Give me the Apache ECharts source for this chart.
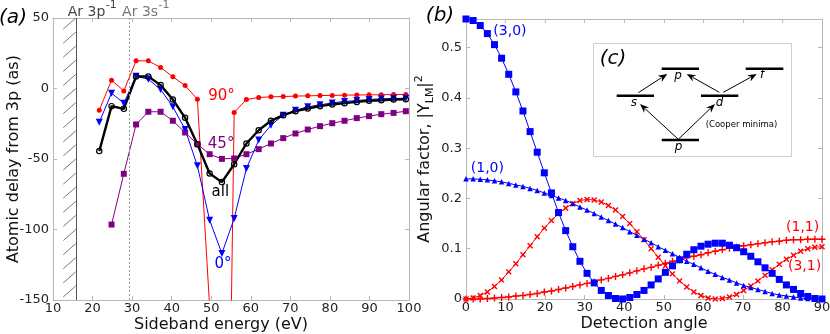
<!DOCTYPE html>
<html>
<head>
<meta charset="utf-8">
<script src="https://cdn.jsdelivr.net/npm/echarts@6/dist/echarts.min.js"></script>
<style>
  html, body { margin: 0; padding: 0; background: #fff; }
  #chart { width: 830px; height: 334px; }
</style>
</head>
<body>
<div id="chart"></div>
<script>
// (a) sideband energies (eV) and atomic delays (as)
const energy = [21.7, 24.8, 27.9, 31.0, 34.1, 37.2, 40.3, 43.4, 46.5, 49.6, 52.7, 55.8, 58.9,
  62.0, 65.1, 68.2, 71.3, 74.4, 77.5, 80.6, 83.7, 86.8, 89.9, 93.0, 96.1, 99.2]
const delay90 = [-15.4, 5.9, -1.7, 19.6, 19.6, 14.9, 8.3, 2.1, -7.6, -155, -620, -17.0, -7.8,
  -6.4, -5.9, -5.7, -5.4, -5.2, -5.0, -4.9, -4.7, -4.6, -4.5, -4.4, -4.3, -4.2]
const delay45 = [null, -96.5, -60.5, -25.5, -16.5, -16.5, -22.9, -31.2, -39.5, -46.6, -49.9, -49.6, -46.6,
  -43.0, -39.0, -35.2, -31.9, -29.1, -26.7, -24.6, -22.9, -21.0, -19.6, -18.2, -17.3, -16.1]
const delay0 = [-23.9, -3.3, -10.4, 8.7, 6.6, -0.7, -13.0, -29.0, -54.8, -93.4, -117.0, -92.2, -56.7,
  -36.6, -26.0, -18.9, -15.4, -13.0, -11.6, -10.2, -9.2, -8.5, -7.8, -7.3, -7.1, -6.9]
const delayAll = [-44.4, -12.5, -14.4, 8.5, 8.5, 2.4, -7.8, -20.8, -39.5, -60.3, -66.4, -53.7, -39.0,
  -29.6, -22.9, -18.9, -16.1, -14.2, -12.5, -11.3, -10.4, -9.5, -8.7, -8.3, -7.8, -7.6]

// thresholds (eV)
const ar3p = 15.76
const ar3s = 29.24

// (b) detection angle (deg) and angular factors
const angle = [0, 1.8, 3.6, 5.4, 7.2, 9, 10.8, 12.6, 14.4, 16.2, 18, 19.8, 21.6, 23.4, 25.2, 27, 28.8,
  30.6, 32.4, 34.2, 36, 37.8, 39.6, 41.4, 43.2, 45, 46.8, 48.6, 50.4, 52.2, 54, 55.8, 57.6, 59.4,
  61.2, 63, 64.8, 66.6, 68.4, 70.2, 72, 73.8, 75.6, 77.4, 79.2, 81, 82.8, 84.6, 86.4, 88.2, 90]
const y30 = [0.557, 0.554, 0.544, 0.528, 0.506, 0.479, 0.447, 0.412, 0.374, 0.333, 0.292, 0.251, 0.211,
  0.172, 0.136, 0.104, 0.075, 0.051, 0.032, 0.017, 0.007, 0.001, 0.000, 0.003, 0.009, 0.017, 0.028,
  0.040, 0.053, 0.066, 0.078, 0.089, 0.098, 0.105, 0.109, 0.111, 0.111, 0.107, 0.102, 0.094, 0.085,
  0.074, 0.062, 0.051, 0.039, 0.028, 0.019, 0.011, 0.005, 0.001, 0.000]
const y10 = [0.239, 0.239, 0.238, 0.237, 0.235, 0.233, 0.230, 0.227, 0.224, 0.220, 0.216, 0.211, 0.206,
  0.201, 0.196, 0.190, 0.183, 0.177, 0.170, 0.163, 0.156, 0.149, 0.142, 0.134, 0.127, 0.119, 0.112,
  0.104, 0.097, 0.090, 0.083, 0.075, 0.069, 0.062, 0.055, 0.049, 0.043, 0.038, 0.032, 0.027, 0.023,
  0.019, 0.015, 0.011, 0.008, 0.006, 0.004, 0.002, 0.001, 0.000, 0.000]
const y11 = [0.000, 0.000, 0.000, 0.001, 0.002, 0.003, 0.004, 0.006, 0.007, 0.009, 0.011, 0.014, 0.016,
  0.019, 0.022, 0.025, 0.028, 0.031, 0.034, 0.038, 0.041, 0.045, 0.048, 0.052, 0.056, 0.060, 0.063,
  0.067, 0.071, 0.075, 0.078, 0.082, 0.085, 0.088, 0.092, 0.095, 0.098, 0.101, 0.103, 0.106, 0.108,
  0.110, 0.112, 0.114, 0.115, 0.117, 0.118, 0.118, 0.119, 0.119, 0.119]
const y31 = [0.000, 0.002, 0.007, 0.014, 0.025, 0.038, 0.054, 0.070, 0.088, 0.106, 0.124, 0.141, 0.156,
  0.170, 0.181, 0.190, 0.196, 0.198, 0.197, 0.193, 0.186, 0.177, 0.164, 0.150, 0.134, 0.118, 0.100,
  0.083, 0.066, 0.050, 0.036, 0.024, 0.014, 0.007, 0.002, 0.000, 0.001, 0.004, 0.009, 0.017, 0.026,
  0.036, 0.047, 0.058, 0.069, 0.079, 0.087, 0.095, 0.100, 0.103, 0.104]

const FONT = 'DejaVu Sans'
const BOX = '#b8b8b8'
const RED = '#ff0000'
const BLUE = '#0000ff'
const PURPLE = '#800080'
const PLUS = 'path://M4,0h2v4h4v2h-4v4h-2v-4h-4v-2h4z'
// open ring, the line shows through its middle
const RING = 'path://M5,0A5,5 0 1,1 4.99,0Z M5,1.8A3.2,3.2 0 1,0 5.01,1.8Z'

const pairs = (xs, ys) => xs.map((x, i) => [x, ys[i]])

// axis with box edges and inward ticks
function axis(extra, labels) {
  return Object.assign({
    type: 'value',
    nameMoveOverlap: false,
    axisLine: { show: true, onZero: false, lineStyle: { color: BOX, width: 1 } },
    axisTick: { show: true, inside: true, length: 4, lineStyle: { color: BOX } },
    splitLine: { show: false },
    axisLabel: labels === false ? { show: false } : { color: '#222', fontSize: 13, fontFamily: FONT, margin: 4 },
    nameTextStyle: { color: '#111', fontSize: 16, fontFamily: FONT }
  }, extra)
}

function line(name, data, color, symbol, size, extra) {
  return Object.assign({
    name: name,
    type: 'line',
    data: data,
    symbol: symbol,
    symbolSize: size,
    showSymbol: true,
    connectNulls: false,
    clip: true,
    lineStyle: { color: color, width: 1 },
    itemStyle: { color: color },
    emphasis: { disabled: true },
    animation: false
  }, extra)
}

const option = {
  animation: false,
  textStyle: { fontFamily: FONT },
  grid: [
    { left: 53, top: 18, width: 356, height: 282, outerBoundsMode: 'none', containLabel: false },
    { left: 466, top: 19, width: 356, height: 280, outerBoundsMode: 'none', containLabel: false }
  ],
  xAxis: [
    axis({ gridIndex: 0, min: 10, max: 100, interval: 10, position: 'bottom',
      name: 'Sideband energy (eV)', nameLocation: 'middle', nameGap: 17,
      nameTextStyle: { color: '#111', fontSize: 16, fontFamily: FONT, padding: [0, 20, 0, 0] },
      axisLabel: { color: '#222', fontSize: 13, fontFamily: FONT, margin: 2 } }),
    axis({ gridIndex: 0, min: 10, max: 100, interval: 10, position: 'top' }, false),
    axis({ gridIndex: 1, min: 0, max: 90, interval: 10, position: 'bottom',
      name: 'Detection angle', nameLocation: 'middle', nameGap: 17,
      axisLabel: { color: '#222', fontSize: 13, fontFamily: FONT, margin: 2 } }),
    axis({ gridIndex: 1, min: 0, max: 90, interval: 10, position: 'top' }, false)
  ],
  yAxis: [
    axis({ gridIndex: 0, min: -150, max: 50, interval: 50, position: 'left',
      name: 'Atomic delay from 3p (as)', nameLocation: 'middle', nameGap: 31 }),
    axis({ gridIndex: 0, min: -150, max: 50, interval: 50, position: 'right' }, false),
    axis({ gridIndex: 1, min: 0, max: 0.557, interval: 0.1, position: 'left',
      name: 'Angular factor, |Y{sub|LM}|{sup|2}', nameLocation: 'middle', nameGap: 30,
      axisLabel: { color: '#222', fontSize: 13, fontFamily: FONT, margin: 4, showMaxLabel: false },
      nameTextStyle: {
        color: '#111', fontSize: 16, fontFamily: FONT, lineHeight: 22,
        rich: {
          sub: { fontSize: 11, fontFamily: FONT, color: '#111', verticalAlign: 'bottom', lineHeight: 10 },
          sup: { fontSize: 11, fontFamily: FONT, color: '#111', verticalAlign: 'top', lineHeight: 10 }
        }
      } }),
    axis({ gridIndex: 1, min: 0, max: 0.557, interval: 0.1, position: 'right' }, false)
  ],
  series: [
    line('90°', pairs(energy, delay90), RED, 'circle', 5, {
      markLine: {
        silent: true,
        symbol: 'none',
        label: { show: false },
        data: [
          { xAxis: ar3p, lineStyle: { color: '#555', width: 1, type: 'solid' } },
          { xAxis: ar3s, lineStyle: { color: '#999', width: 1, type: [2, 2] } }
        ]
      }
    }),
    line('45°', pairs(energy, delay45), PURPLE, 'rect', 6),
    line('0°', pairs(energy, delay0), BLUE, 'triangle', 7, { symbolRotate: 180 }),
    line('all', pairs(energy, delayAll), '#000', RING, 6.5, {
      lineStyle: { color: '#000', width: 2.4 }
    }),
    line('(1,1)', pairs(angle, y11), RED, PLUS, 7, { xAxisIndex: 2, yAxisIndex: 2 }),
    line('(3,1)', pairs(angle, y31), RED, PLUS, 7, { xAxisIndex: 2, yAxisIndex: 2, symbolRotate: 45 }),
    line('(1,0)', pairs(angle, y10), BLUE, 'triangle', 5.5, { xAxisIndex: 2, yAxisIndex: 2 }),
    line('(3,0)', pairs(angle, y30), BLUE, 'rect', 7, { xAxisIndex: 2, yAxisIndex: 2 })
  ]
}

const chart = echarts.init(document.getElementById('chart'))
chart.setOption(option)

const pa = (x, y) => chart.convertToPixel({ gridIndex: 0 }, [x, y])
const pb = (x, y) => chart.convertToPixel({ gridIndex: 1 }, [x, y])

const ctx = document.createElement('canvas').getContext('2d')
function textWidth(s, size) {
  ctx.font = size + 'px "' + FONT + '"'
  return ctx.measureText(s).width
}

function text(x, y, str, color, size, extra) {
  return {
    type: 'text', x: x, y: y, z: 100,
    style: Object.assign({ text: str, fill: color, fontSize: size, fontFamily: FONT, align: 'center', verticalAlign: 'middle' }, extra)
  }
}

function arrow(x1, y1, x2, y2) {
  const a = Math.atan2(y2 - y1, x2 - x1)
  const L = 9, W = 3.6
  const ca = Math.cos(a), sa = Math.sin(a)
  const bx = x2 - L * ca, by = y2 - L * sa
  return [
    { type: 'line', z: 100, shape: { x1: x1, y1: y1, x2: bx + 2 * ca, y2: by + 2 * sa }, style: { stroke: '#000', lineWidth: 1 } },
    { type: 'polygon', z: 100, shape: { points: [[x2, y2], [bx - W * sa, by + W * ca], [x2 - 0.7 * L * ca, y2 - 0.7 * L * sa], [bx + W * sa, by - W * ca]] },
      style: { fill: '#000' } }
  ]
}

function level(x1, x2, y) {
  return { type: 'line', z: 100, shape: { x1: x1, y1: y, x2: x2, y2: y }, style: { stroke: '#000', lineWidth: 2.6 } }
}

const graphics = []

// hatching left of the Ar 3p threshold
const th = pa(ar3p, 0)[0]
for (let v = 50; v >= -140; v -= 10) {
  const y = pa(ar3p, v)[1]
  graphics.push({ type: 'line', z: 50, shape: { x1: th - 12.5, y1: y + 11, x2: th, y2: y },
    style: { stroke: '#555', lineWidth: 0.8 } })
}

// threshold labels with superscript -1
const ts = pa(ar3s, 0)[0]
function threshold(x, s, color) {
  const w = textWidth(s, 14)
  graphics.push(text(x, 12, s, color, 14, { align: 'left' }))
  graphics.push(text(x + w + 0.5, 5, '-1', color, 11, { align: 'left' }))
}
threshold(th - 8, 'Ar 3p', '#444')
threshold(ts - 7, 'Ar 3s', '#777')

// panel letters
graphics.push(text(13, 18, '(a)', '#000', 20, { fontStyle: 'italic' }))
graphics.push(text(440, 16, '(b)', '#000', 20, { fontStyle: 'italic' }))

// curve tags, panel (a)
const tagsA = [['90°', 52.6, -5.3, RED], ['45°', 52.5, -39.4, PURPLE], ['all', 52.3, -73.4, '#000'], ['0°', 53.0, -124.5, BLUE]]
tagsA.forEach(t => {
  const p = pa(t[1], t[2])
  graphics.push(text(p[0], p[1], t[0], t[3], 15))
})

// curve tags, panel (b)
const tagsB = [['(3,0)', 11.1, 0.533, BLUE], ['(1,0)', 5.4, 0.26, BLUE], ['(1,1)', 85.1, 0.1425, RED], ['(3,1)', 85.6, 0.0645, RED]]
tagsB.forEach(t => {
  const p = pb(t[1], t[2])
  graphics.push(text(p[0], p[1], t[0], t[3], 14))
})

// inset (c): transition diagram
graphics.push({ type: 'rect', z: 90, shape: { x: 593.5, y: 43.5, width: 198, height: 113 },
  style: { fill: '#fff', stroke: '#cfcfcf', lineWidth: 1 } })
graphics.push(text(613, 59, '(c)', '#000', 20, { fontStyle: 'italic' }))
graphics.push(level(661.7, 699, 68.7), level(745.7, 783.3, 68.7), level(616.7, 654, 95.7),
  level(701, 738.3, 95.7), level(661.7, 699, 140))
graphics.push(...arrow(638.3, 92.7, 667.3, 74), ...arrow(719.3, 92.3, 686.7, 74), ...arrow(723.3, 92.3, 756.7, 74),
  ...arrow(678.3, 139.3, 640, 104), ...arrow(678.3, 139.3, 715, 104))
const italic = (x, y, s) => text(x, y, s, '#000', 12, { fontStyle: 'italic' })
graphics.push(italic(678, 75.5, 'p'), italic(762, 74.5, 'f'), italic(634, 102.5, 's'), italic(719.5, 102.5, 'd'),
  italic(678.5, 146.5, 'p'))
graphics.push(text(741.5, 124.5, '(Cooper minima)', '#000', 8.5))

chart.setOption({ graphic: graphics })
</script>
</body>
</html>
